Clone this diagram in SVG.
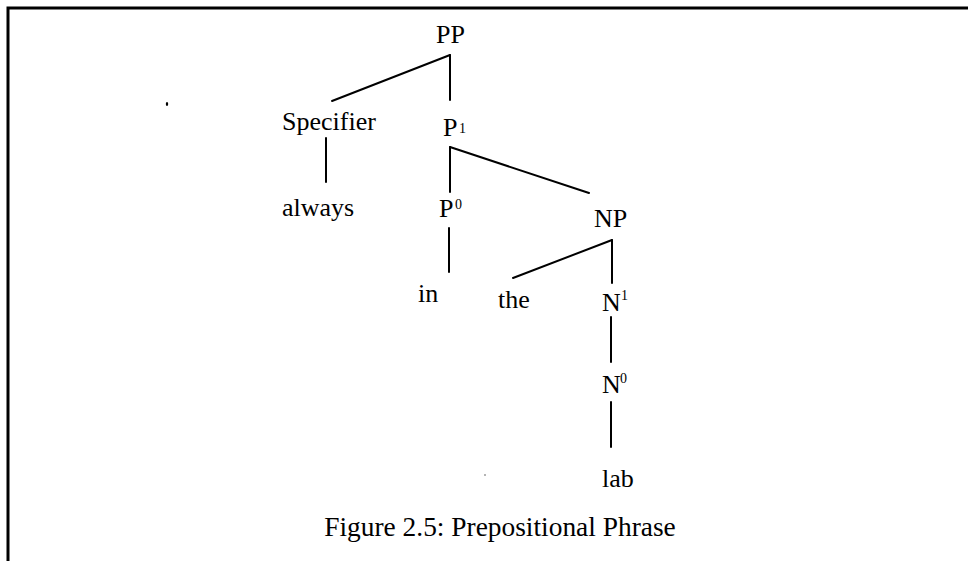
<svg xmlns="http://www.w3.org/2000/svg" width="968" height="561" viewBox="0 0 968 561">
<style>
text{font-family:"Liberation Serif","Times New Roman",serif;font-size:26px;fill:#000}
.sup{font-size:14px}
.cap{font-size:27.4px}
.edge{stroke:#000;stroke-width:2;fill:none;stroke-linecap:round}
</style>
<rect width="968" height="561" fill="#fff"/>
<g id="frame"><path d="M8,561 V8 H968" fill="none" stroke="#000" stroke-width="3"/></g>
<g id="connectors">
<line class="edge" x1="450" y1="55" x2="332" y2="101"/>
<line class="edge" x1="450" y1="55" x2="450" y2="100"/>
<line class="edge" x1="326" y1="138" x2="326" y2="182"/>
<line class="edge" x1="450" y1="147" x2="450" y2="192"/>
<line class="edge" x1="450" y1="147" x2="589" y2="193"/>
<line class="edge" x1="449" y1="228" x2="449" y2="272"/>
<line class="edge" x1="612" y1="240" x2="513" y2="278"/>
<line class="edge" x1="612" y1="240" x2="612" y2="283"/>
<line class="edge" x1="611" y1="317" x2="611" y2="362"/>
<line class="edge" x1="611" y1="402" x2="611" y2="447"/>
</g>
<g id="PP"><text x="436" y="43">PP</text></g>
<g id="Specifier"><text x="282" y="130">Specifier</text></g>
<g id="P1"><text x="443" y="136">P</text><text class="sup" x="459" y="133">1</text></g>
<g id="always"><text x="282" y="216">always</text></g>
<g id="P0"><text x="439" y="217">P</text><text class="sup" x="455" y="209">0</text></g>
<g id="NP"><text x="594" y="227">NP</text></g>
<g id="in"><text x="418" y="302">in</text></g>
<g id="the"><text x="498" y="308">the</text></g>
<g id="N1"><text x="602" y="311">N</text><text class="sup" x="621" y="300">1</text></g>
<g id="N0"><text x="602" y="393">N</text><text class="sup" x="620" y="383">0</text></g>
<g id="lab"><text x="602" y="487">lab</text></g>
<g id="caption"><text class="cap" x="500" y="536" text-anchor="middle">Figure 2.5: Prepositional Phrase</text></g>
<g id="specks"><ellipse cx="167" cy="104" rx="1.2" ry="2" fill="#000"/><circle cx="485" cy="475" r="0.8" fill="#555"/></g>
</svg>
